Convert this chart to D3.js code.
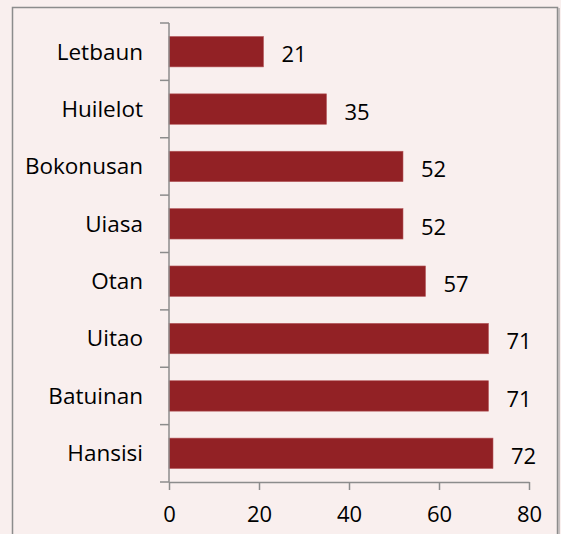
<!DOCTYPE html>
<html>
<head>
<meta charset="utf-8">
<script src="https://cdn.jsdelivr.net/npm/d3@7"></script>
<style>
  html, body { margin: 0; padding: 0; background: #f9efee; }
  svg { display: block; }
</style>
</head>
<body>
<svg id="chart" width="561" height="534"></svg>
<script>
  // categories top to bottom, with values
  var villages = ["Letbaun", "Huilelot", "Bokonusan", "Uiasa", "Otan", "Uitao", "Batuinan", "Hansisi"];
  var counts = [21, 35, 52, 52, 57, 71, 71, 72];
  var xTicks = [0, 20, 40, 60, 80];

  var svg = d3.select("#chart");
  var font = "'Open Sans', sans-serif";

  // frame
  svg.append("rect")
    .attr("x", 12.5).attr("y", 7.5)
    .attr("width", 545).attr("height", 540)
    .attr("fill", "#f9efee")
    .attr("stroke", "#8c8c8c")
    .attr("stroke-width", 1.5);
  svg.append("line")
    .attr("x1", 559).attr("x2", 559)
    .attr("y1", 8).attr("y2", 534)
    .attr("stroke", "#b5b0b0").attr("stroke-width", 1.5);

  var x = d3.scaleLinear().domain([0, 80]).range([169, 529]);
  var y = d3.scaleBand().domain(villages).range([23, 482]).paddingInner(0.47).paddingOuter(0.235);
  var band = d3.scaleBand().domain(villages).range([23, 482]);

  // bars
  svg.selectAll("rect.bar")
    .data(villages)
    .enter().append("rect")
    .attr("class", "bar")
    .attr("x", x(0))
    .attr("y", function (d) { return y(d); })
    .attr("width", function (d, i) { return x(counts[i]) - x(0); })
    .attr("height", y.bandwidth())
    .attr("fill", "#922125")
    .attr("stroke", "#b5585b")
    .attr("stroke-width", 0.6);

  // value labels
  svg.selectAll("text.val")
    .data(villages)
    .enter().append("text")
    .attr("class", "val")
    .attr("x", function (d, i) { return x(counts[i]) + 18; })
    .attr("y", function (d) { return y(d) + y.bandwidth() / 2 + 3; })
    .attr("dy", "0.35em")
    .attr("font-family", font)
    .attr("font-size", "22px")
    .attr("fill", "#000")
    .text(function (d, i) { return counts[i]; });

  // y axis with ticks between categories
  var yLine = svg.append("g");
  yLine.append("line")
    .attr("x1", x(0)).attr("x2", x(0))
    .attr("y1", 23).attr("y2", 482)
    .attr("stroke", "#8c8c8c").attr("stroke-width", 1.5);
  var edges = villages.map(function (d) { return band(d); }).concat([482]);
  yLine.selectAll("line.tick")
    .data(edges)
    .enter().append("line")
    .attr("class", "tick")
    .attr("x1", x(0) - 9).attr("x2", x(0))
    .attr("y1", function (d) { return d; }).attr("y2", function (d) { return d; })
    .attr("stroke", "#8c8c8c").attr("stroke-width", 1.5);

  svg.selectAll("text.cat")
    .data(villages)
    .enter().append("text")
    .attr("class", "cat")
    .attr("x", x(0) - 26)
    .attr("y", function (d) { return band(d) + band.bandwidth() / 2; })
    .attr("dy", "0.35em")
    .attr("text-anchor", "end")
    .attr("font-family", font)
    .attr("font-size", "22.5px")
    .attr("fill", "#000")
    .text(function (d) { return d; });

  // x axis
  var xAxis = svg.append("g")
    .attr("transform", "translate(0,482)")
    .call(d3.axisBottom(x).tickValues(xTicks).tickSize(8).tickSizeOuter(0).tickPadding(16));
  xAxis.select(".domain").attr("stroke", "#8c8c8c").attr("stroke-width", 1.5);
  xAxis.selectAll(".tick line").attr("stroke", "#8c8c8c").attr("stroke-width", 1.5);
  xAxis.selectAll(".tick text")
    .attr("font-family", font)
    .attr("font-size", "22px")
    .attr("fill", "#000");
</script>
</body>
</html>
